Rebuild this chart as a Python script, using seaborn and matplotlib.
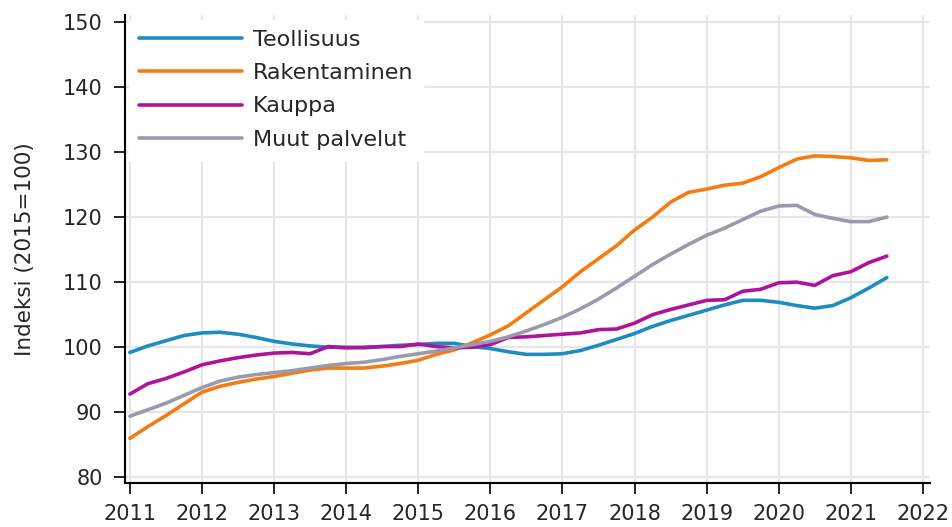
import numpy as np
import pandas as pd
import seaborn as sns
import matplotlib.pyplot as plt

# quarterly points, 2011 Q1 .. 2021 Q3 start
years = np.arange(2011.0, 2021.51, 0.25)

teollisuus = [99.2, 100.2, 101.0, 101.8, 102.2, 102.3, 102.0, 101.5, 100.9, 100.5,
              100.2, 100.0, 100.0, 99.9, 100.1, 100.3, 100.4, 100.6, 100.6, 100.1,
              99.8, 99.3, 98.9, 98.9, 99.0, 99.5, 100.3, 101.2, 102.1, 103.2,
              104.1, 104.9, 105.7, 106.5, 107.2, 107.2, 106.9, 106.4, 106.0, 106.4,
              107.6, 109.1, 110.7]
rakentaminen = [86.0, 87.8, 89.5, 91.3, 93.1, 94.0, 94.6, 95.1, 95.5, 96.0,
                96.5, 96.8, 96.8, 96.8, 97.1, 97.5, 98.0, 98.9, 99.6, 100.7,
                101.9, 103.3, 105.3, 107.3, 109.3, 111.6, 113.6, 115.6, 118.0, 120.0,
                122.3, 123.8, 124.3, 124.9, 125.2, 126.2, 127.6, 128.9, 129.4, 129.3,
                129.1, 128.7, 128.8]
kauppa = [92.8, 94.4, 95.2, 96.2, 97.3, 97.9, 98.4, 98.8, 99.1, 99.2,
          99.0, 100.1, 99.9, 100.0, 100.1, 100.1, 100.5, 100.1, 99.9, 100.0,
          100.4, 101.5, 101.6, 101.8, 102.0, 102.2, 102.7, 102.8, 103.7, 105.0,
          105.8, 106.5, 107.2, 107.3, 108.6, 108.9, 109.9, 110.0, 109.5, 111.0,
          111.6, 113.0, 114.0]
muut = [89.4, 90.4, 91.4, 92.6, 93.8, 94.8, 95.4, 95.8, 96.1, 96.4,
        96.8, 97.2, 97.5, 97.7, 98.1, 98.6, 99.0, 99.4, 99.9, 100.4,
        100.9, 101.6, 102.5, 103.5, 104.6, 105.9, 107.4, 109.1, 110.9, 112.7,
        114.3, 115.8, 117.2, 118.3, 119.6, 120.9, 121.7, 121.8, 120.4, 119.8,
        119.3, 119.3, 120.0]

series = ["Teollisuus", "Rakentaminen", "Kauppa", "Muut palvelut"]
colors = ["#1e8bc3", "#f47c12", "#b0139b", "#9a9aae"]

df = pd.DataFrame({
    "vuosi": np.tile(years, 4),
    "indeksi": teollisuus + rakentaminen + kauppa + muut,
    "sarja": np.repeat(series, len(years)),
})

sns.set_style("whitegrid", {"grid.color": "#e6e6e6", "axes.edgecolor": "black"})
plt.rcParams["font.family"] = ["DejaVu Sans"]

fig = plt.figure(figsize=(9.53, 5.27), dpi=100)
ax = fig.add_axes([0.131, 0.083, 0.845, 0.888])

sns.lineplot(data=df, x="vuosi", y="indeksi", hue="sarja", palette=colors,
             linewidth=2.6, ax=ax)

ax.set_xlim(2010.93, 2022.1)
ax.set_ylim(79.1, 151.0)
ax.set_xticks(range(2011, 2023))
ax.set_yticks(range(80, 151, 10))
ax.tick_params(axis="both", labelsize=15, length=8, width=1.2, direction="out",
               left=True, bottom=True, color="black")
ax.tick_params(axis="y", pad=8)
ax.tick_params(axis="x", pad=7)
ax.set_xlabel("")
ax.set_ylabel("Indeksi (2015=100)", fontsize=15.5, labelpad=20)
sns.despine(ax=ax)
for s in ["left", "bottom"]:
    ax.spines[s].set_linewidth(1.5)
ax.grid(True, linewidth=1.5)

leg = ax.legend(loc="upper left", frameon=True, fontsize=16, handlelength=4.6,
                handletextpad=0.5, labelspacing=0.6, borderpad=0.45,
                borderaxespad=0.2, fancybox=False)
leg.get_frame().set_edgecolor("white")
leg.get_frame().set_alpha(1)

fig.savefig("out.png", dpi=100)
